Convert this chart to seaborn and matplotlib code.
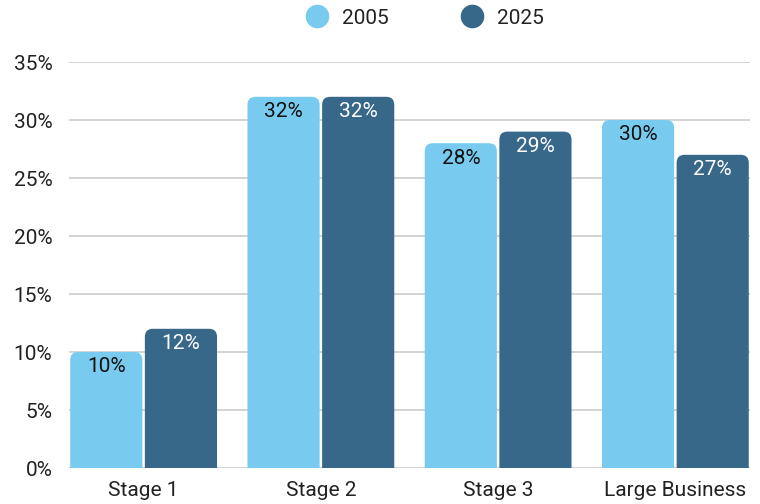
import matplotlib
matplotlib.use("Agg")
import matplotlib.pyplot as plt
import seaborn as sns
import pandas as pd
from matplotlib.patches import FancyBboxPatch
from matplotlib.lines import Line2D

categories = ["Stage 1", "Stage 2", "Stage 3", "Large Business"]
years = ["2005", "2025"]
values_2005 = [10, 32, 28, 30]
values_2025 = [12, 32, 29, 27]
yticks = [0, 5, 10, 15, 20, 25, 30, 35]
colors = ["#78CBEF", "#37688A"]

df = pd.DataFrame({
    "category": categories * 2,
    "year": [years[0]] * 4 + [years[1]] * 4,
    "value": values_2005 + values_2025,
})

sns.set_style("white")
plt.rcParams["font.family"] = ["Roboto", "DejaVu Sans"]

fig = plt.figure(figsize=(7.6, 5.04), dpi=100)
ax = fig.add_axes([69/760, 1-468/504, (750-69)/760, (468-62)/504])

sns.barplot(data=df, x="category", y="value", hue="year", palette=colors,
            width=0.842, gap=0.033, ax=ax, legend=False, saturation=1)

ax.set_ylim(0, 35)
ax.set_xlim(-0.421, 3.421)

xpp = (3.421 + 0.421) / (750 - 69)
ypp = 35 / (468 - 62)
r = 8 * xpp
aspect = ypp / xpp

bars = list(ax.patches)
for i, p in enumerate(bars):
    x0, w, h = p.get_x(), p.get_width(), p.get_height()
    fc = p.get_facecolor()
    p.set_visible(False)
    fb = FancyBboxPatch((x0, -5), w, h + 5,
                        boxstyle=f"round,pad=0,rounding_size={r}",
                        mutation_aspect=aspect, facecolor=fc, edgecolor="none",
                        zorder=3, clip_on=True)
    ax.add_patch(fb)
    year_idx = 0 if i < 4 else 1
    ax.text(x0 + w / 2, h - 15 * ypp, f"{h:.0f}%", ha="center", va="center",
            fontsize=15, color="#111111" if year_idx == 0 else "white", zorder=4)

ax.set_yticks(yticks)
ax.set_yticklabels([f"{t}%" for t in yticks])
ax.yaxis.grid(True, color="#CCCCCC", linewidth=1.2, zorder=0)
ax.set_axisbelow(True)
for s in ax.spines.values():
    s.set_visible(False)
ax.set_xlabel("")
ax.set_ylabel("")
ax.tick_params(axis="y", length=0, labelsize=15, labelcolor="#222222", pad=12)
ax.tick_params(axis="x", length=0, labelsize=15, labelcolor="#222222", pad=9)

handles = [Line2D([], [], marker="o", linestyle="", markersize=17,
                  markerfacecolor=c, markeredgecolor="none") for c in colors]
fig.legend(handles, years, loc="center", bbox_to_anchor=(0.553, 1 - 18/504),
           ncol=2, frameon=False, fontsize=15, handletextpad=0.2,
           columnspacing=3.0, labelcolor="#222222")

fig.savefig("out.png", dpi=100)
